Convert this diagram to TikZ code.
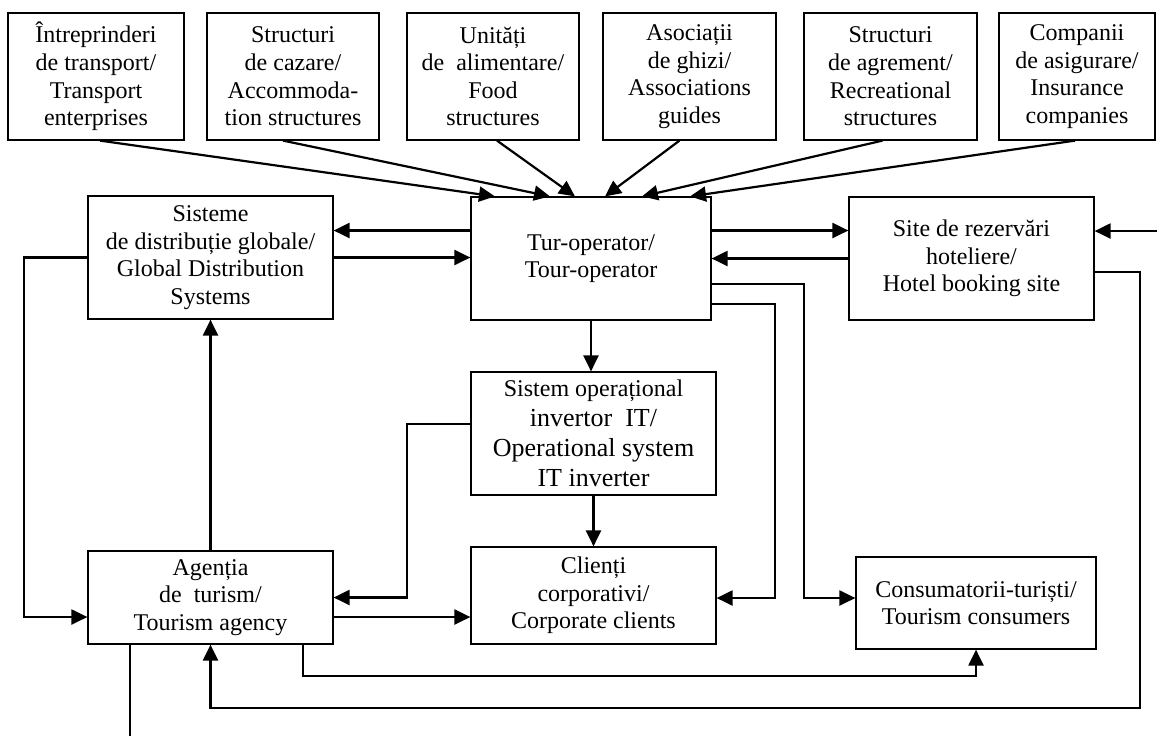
\documentclass[tikz,border=0pt]{standalone}
\usepackage{fontspec}
\setmainfont{Liberation Serif}
\usepackage{tikz}
\usetikzlibrary{arrows.meta,calc}
\tikzset{>={Triangle[length=8pt,width=7.5pt]}}
\tikzset{
  % boxes of the scheme
  unit box/.style={draw, line width=0.6pt, inner sep=0pt, align=center,
    font=\fontsize{12}{13.8}\selectfont},
  % connecting lines
  flow/.style={line width=1.1pt},
}

\begin{document}
\begin{tikzpicture}[x=0.5pt,y=-0.5pt]
            \useasboundingbox (0,0) rectangle (1157,736);

            % suppliers
            \node[unit box, minimum width=88pt, minimum height=63.5pt] (tr) at (96,76.5) {Întreprinderi\\de transport/\\Transport\\enterprises};
            \node[unit box, minimum width=86pt, minimum height=63.5pt] (caz) at (293,76.5) {Structuri\\de cazare/\\Accommoda-\\tion structures};
            \node[unit box, minimum width=86pt, minimum height=63.5pt] (alim) at (493,76.5) {Unități\\de\ \ alimentare/\\Food\\structures};
            \node[unit box, minimum width=86.5pt, minimum height=63.5pt] (ghid) at (689.5,76.5) {Asociații\\de ghizi/\\Associations\\guides};
            \node[unit box, minimum width=86.5pt, minimum height=63.5pt] (agr) at (890.5,76.5) {Structuri\\de agrement/\\Recreational\\structures};
            \node[unit box, minimum width=78pt, minimum height=63.5pt] (asig) at (1077,76.5) {Companii\\de asigurare/\\Insurance\\companies};

            \node[unit box, minimum width=122.5pt, minimum height=61.5pt] (gds) at (210.5,257.5) {Sisteme\\de distribuție globale/\\Global Distribution\\Systems};
            \node[unit box, minimum width=120pt, minimum height=61.5pt] (tur) at (591,258.5) {Tur-operator/\\Tour-operator};
            \node[unit box, minimum width=122.5pt, minimum height=61.5pt] (site) at (971.5,258.5) {Site de rezervări\\hoteliere/\\Hotel booking site};
            \node[unit box, minimum width=122.5pt, minimum height=61.5pt, font=\fontsize{13}{15}\selectfont] (sys) at (593.5,433.5) {{\fontsize{12}{15}\selectfont Sistem operațional}\\invertor\ \ IT/\\Operational system\\IT inverter};
            \node[unit box, minimum width=122.5pt, minimum height=46.5pt] (agen) at (210.5,597.5) {Agenția\\de\ \ turism/\\Tourism agency};
            \node[unit box, minimum width=122.5pt, minimum height=48.5pt] (cli) at (593.5,595.5) {Clienți\\corporativi/\\Corporate clients};
            \node[unit box, minimum width=120pt, minimum height=46pt] (cons) at (976,603) {Consumatorii-turiști/\\Tourism consumers};

            \coordinate (gdsbend) at (24,617);
            \coordinate (sysbend) at (407,597.5);
            \coordinate (clibend) at (775,598);
            \coordinate (consbend) at (804,598);
            \coordinate (loopbend) at (1140,708);
            \coordinate (agenbend) at (303,676);
            \coordinate (rightin) at (1157,231);
            \coordinate (downout) at (130,736);

            % into the tour-operator
            \draw[flow,->] ([xshift=2pt]tr.south) -- ([xshift=-48pt]tur.north);
            \draw[flow,->] ([xshift=-5pt]caz.south) -- ([xshift=-20.5pt]tur.north);
            \draw[flow,->] ([xshift=2pt]alim.south) -- ([xshift=-8pt]tur.north);
            \draw[flow,->] ([xshift=-5pt]ghid.south) -- ([xshift=7pt]tur.north);
            \draw[flow,->] ([xshift=-4pt]agr.south) -- ([xshift=25.5pt]tur.north);
            \draw[flow,->] ([xshift=-1pt]asig.south) -- ([xshift=49.5pt]tur.north);

            \draw[flow,->] ([yshift=14pt]tur.west) -- ([yshift=14pt]tur.west -| gds.east);
            \draw[flow,->] (gds.east) -- (gds.east -| tur.west);
            \draw[flow,->] ([yshift=14pt]tur.east) -- ([yshift=14pt]tur.east -| site.west);
            \draw[flow,->] (site.west) -- (site.west -| tur.east);
            \draw[flow,->] (rightin) -- (rightin -| site.east);
            \draw[flow,->] ([yshift=-6.75pt]site.east) -| (loopbend) -| (agen.south);
            \draw[flow,->] ([yshift=-12.75pt]tur.east) -| (consbend) -- (consbend -| cons.west);
            \draw[flow,->] ([yshift=-22.75pt]tur.east) -| (clibend) -- (clibend -| cli.east);
            \draw[flow,->] (tur.south) -- (tur.south |- sys.north);
            \draw[flow,->] (sys.south) -- (cli.north);
            \draw[flow,->] ([yshift=4.75pt]sys.west) -| (sysbend) -- (agen.east);
            \draw[flow,->] ([yshift=-9.75pt]agen.east) -- ([yshift=-9.75pt]agen.east -| cli.west);
            \draw[flow,->] (agen.north) -- (gds.south);
            \draw[flow,->] (gds.west) -| (gdsbend) -- (gdsbend -| agen.west);
            \draw[flow,->] (agenbend |- agen.south) -- (agenbend) -| (cons.south);
            \draw[flow] (downout |- agen.south) -- (downout);
        \end{tikzpicture}
\end{document}
